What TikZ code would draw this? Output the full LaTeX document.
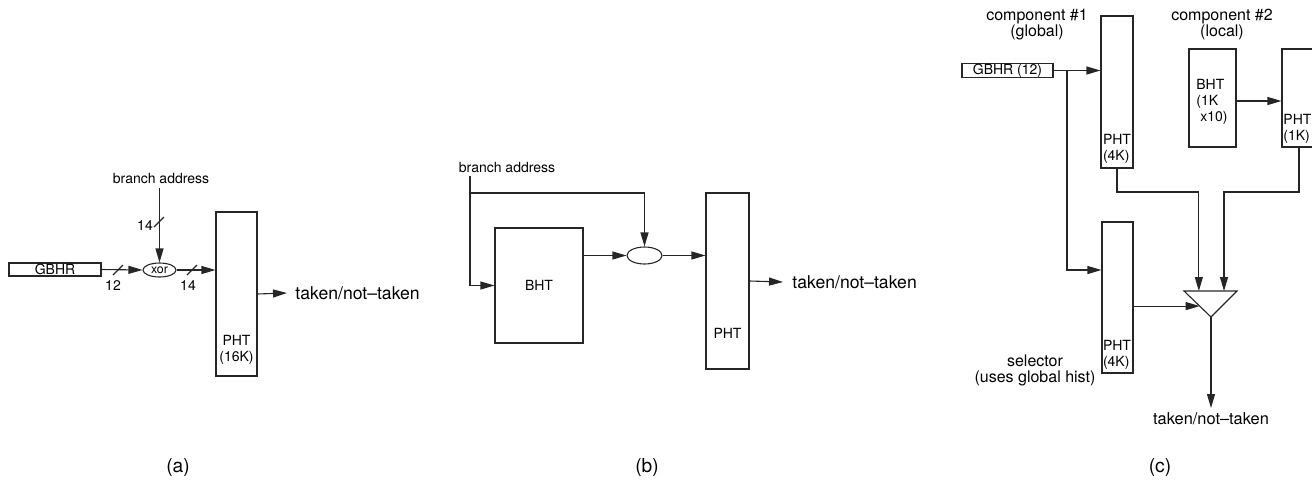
\documentclass[tikz,border=0pt]{standalone}
\usepackage{fontspec}
\setmainfont{TeX Gyre Heros}
\usetikzlibrary{arrows.meta,shapes.geometric,calc}

\tikzset{
  linie/.style={line width=0.55pt, draw=black!85},
  pfeil/.style={linie, -{Triangle[length=7pt,width=4pt]}},
  kasten/.style={linie, rectangle, inner sep=0pt},
  klein/.style={font=\fontsize{7}{8}\selectfont, inner sep=0pt},
  mittel/.style={font=\fontsize{8}{8}\selectfont, inner sep=0pt, align=center},
  gross/.style={font=\fontsize{8.8}{9}\selectfont},
}

\begin{document}
\begin{tikzpicture}[x=0.5pt, y=-0.5pt]
  % Bildrahmen
  \useasboundingbox (0,0) rectangle (1312,482);
  \clip (0,0) rectangle (1312,482);

  % ---------------- (a) gshare ----------------
  \node[kasten, minimum width=46pt, minimum height=6.5pt, klein] (ghrA) at (55,269.5) {GBHR};
  \node[linie, ellipse, minimum width=16.5pt, minimum height=7pt, inner sep=0pt,
        font=\fontsize{6.2}{6}\selectfont] (xor) at (159.5,270) {xor};
  \node[kasten, minimum width=20.5pt, minimum height=82pt] (phtA) at (236.5,294) {};
  \node[klein, align=center] (phtAtxt) at (236.5,350) {PHT\\(16K)};
  \node[klein] (addrA) at (161,179) {branch address};
  \node[gross, anchor=west, inner sep=4pt] (takenA) at (287,293) {taken/not--taken};

  \draw[pfeil] (xor.north |- addrA.south) ++(0,3) -- (xor.north);
  \draw[pfeil] (ghrA.east) -- (xor.west);
  \draw[pfeil] (xor.east) -- (xor.east -| phtA.west);
  \draw[pfeil] (phtA.east) -- (takenA.west);

  % Bus-Striche
  \foreach \x/\y in {118/270, 192/270, 159/222}
    \draw[linie] (\x-5,\y+5) -- (\x+5,\y-5);
  \node[klein] (bitsG) at (113,286) {12};
  \node[klein] (bitsX) at (188,286) {14};
  \node[klein] (bitsA) at (145,226) {14};

  % ---------------- (b) lokal ----------------
  \node[klein] (addrB) at (507,167) {branch address};
  \coordinate (knickB) at (470,193);
  \node[kasten, minimum width=44pt, minimum height=57.5pt, klein] (bht) at (539,285.5) {BHT};
  \node[linie, ellipse, minimum width=17.5pt, minimum height=8.5pt, inner sep=0pt] (ell) at (644.5,255.5) {};
  \node[kasten, minimum width=21.5pt, minimum height=88pt] (phtB) at (727.5,281) {};
  \node[klein] (phtBtxt) at (727.5,333) {PHT};
  \node[gross, anchor=west, inner sep=4.5pt] (takenB) at (783,282) {taken/not--taken};

  \draw[pfeil] (addrB.south -| knickB) ++(0,3) |- (bht.west);
  \draw[pfeil] (knickB) -| (ell.north);
  \draw[pfeil] (bht.east |- ell.west) -- (ell.west);
  \draw[pfeil] (ell.east) -- (ell.east -| phtB.west);
  \draw[pfeil] (phtB.east) -- (takenB.west);

  % ---------------- (c) tournament ----------------
  \node[mittel] (comp1) at (1037,25) {component \#1\\(global)};
  \node[mittel] (comp2) at (1222,25) {component \#2\\(local)};
  \node[kasten, minimum width=45.5pt, minimum height=6.5pt, klein] (ghrC) at (1007.5,70.5) {GBHR (12)};
  \node[kasten, minimum width=16pt, minimum height=76pt] (phtG) at (1117,92) {};
  \node[klein, align=left] (phtGtxt) at (1117,148.5) {PHT\\(4K)};
  \node[kasten, minimum width=23.5pt, minimum height=49pt] (bhtL) at (1212.5,98) {};
  \node[klein, align=left] (bhtLtxt) at (1212,102) {BHT\\(1K\\\hspace*{2pt}x10)};
  \node[kasten, minimum width=17pt, minimum height=49pt] (phtL) at (1299,98) {};
  \node[klein, align=left, anchor=west] (phtLtxt) at (1283,128.5) {PHT\\(1K)};
  \node[kasten, minimum width=15.5pt, minimum height=75.5pt] (sel) at (1117.5,297.5) {};
  \node[klein, align=left] (selTxt) at (1117,355) {PHT\\(4K)};
  \node[mittel] (selLbl) at (1035,370) {selector\\(uses global hist)};

  % Auswahl-Dreieck
  \coordinate (muxL) at (1184,291);
  \coordinate (muxR) at (1237,291);
  \coordinate (mux) at (1211,317);
  \draw[linie] (muxL) -- (muxR) -- (mux) -- cycle;
  \coordinate (muxE1) at ($(muxL)!0.28!(muxR)$);
  \coordinate (muxE2) at ($(muxL)!0.755!(muxR)$);
  \coordinate (muxE3) at ($(muxL)!0.58!(mux)$);
  \coordinate (abzw) at (1067,70.5);
  \coordinate (sammel) at (0,192);
  \node[font=\fontsize{8.2}{9}\selectfont, anchor=north, inner sep=2pt] (takenC) at (1211,408) {taken/not--taken};

  \draw[pfeil] (ghrC.east) -- (ghrC.east -| phtG.west);
  \draw[pfeil] (abzw) |- ([yshift=13.75pt]sel.west);
  \draw[pfeil] (bhtL.east |- 0,101) -- (phtL.west |- 0,101);
  \draw[pfeil] (phtG.south) |- (sammel -| muxE1) -- (muxE1);
  \draw[pfeil] (phtL.south) |- (sammel -| muxE2) -- (muxE2);
  \draw[pfeil] (sel.east |- muxE3) -- (muxE3);
  \draw[pfeil] (mux) -- (takenC.north);

  % Unterschriften
  \foreach \x/\t in {178/a, 647/b, 1160/c}
    \node[font=\fontsize{9.6}{10}\selectfont] (cap\t) at (\x,468) {(\t)};
\end{tikzpicture}
\end{document}
